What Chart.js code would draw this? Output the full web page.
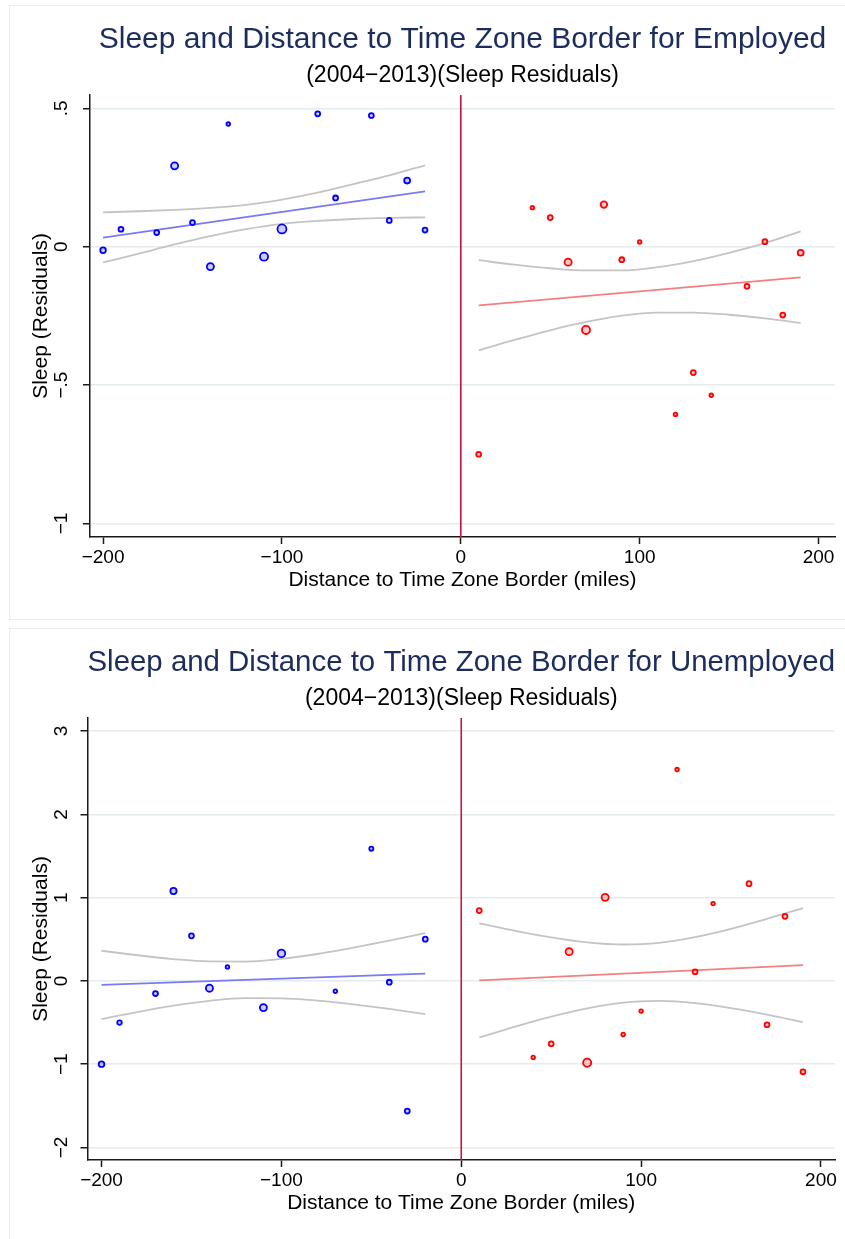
<!DOCTYPE html>
<html>
<head>
<meta charset="utf-8">
<script src="https://cdn.jsdelivr.net/npm/chart.js@4.4.1/dist/chart.umd.min.js"></script>
<style>
  html, body { margin: 0; padding: 0; background: #fff; overflow: hidden; }
  #page { position: relative; width: 845px; height: 1239px; }
  .panel { position: absolute; left: 9px; width: 850px; border: 1px solid #e6edef; box-sizing: border-box; }
  canvas { position: absolute; left: 0; }
</style>
</head>
<body>
<div id="page">
  <div class="panel" style="top:5px;height:615px;"></div>
  <div class="panel" style="top:628px;height:620px;"></div>
  <canvas id="employed" width="845" height="620" style="top:0px"></canvas>
  <canvas id="unemployed" width="845" height="620" style="top:623px"></canvas>
</div>
<script>
// distance bins (miles) west / east of the border
const westX = [-200, -190, -170, -160, -150, -140, -130, -110, -100, -80, -70, -50, -40, -30, -20];
const eastX = [10, 40, 50, 60, 70, 80, 90, 100, 120, 130, 140, 160, 170, 180, 190];
const westXUnemp = [-200, -190, -170, -160, -150, -140, -130, -110, -100, -70, -50, -40, -30, -20];

// employed sleep residuals
const empWestY = [-0.013, 0.063, 0.051, 0.292, 0.087, -0.072, 0.443, -0.036, 0.064, 0.480, 0.176, 0.474, 0.095, 0.239, 0.060];
const empEastY = [-0.750, 0.141, 0.105, -0.056, -0.301, 0.152, -0.047, 0.017, -0.606, -0.455, -0.537, -0.143, 0.018, -0.247, -0.022];
const empWestW = [9, 7, 7, 14, 7, 14, 4, 18, 22, 7, 7, 7, 7, 10, 7];
const empEastW = [7, 4, 7, 14, 18, 12, 7, 4, 4, 7, 4, 7, 7, 7, 10];

// unemployed sleep residuals
const unempWestY = [-1.000, -0.501, -0.152, 1.079, 0.541, -0.088, 0.168, -0.321, 0.330, -0.124, 1.587, -0.016, -1.563, 0.501];
const unempEastY = [0.844, -0.919, -0.755, 0.351, -0.983, 1.003, -0.643, -0.363, 2.538, 0.110, 0.928, 1.168, -0.527, 0.775, -1.092];
const unempWestW = [9, 6, 7, 11, 7, 14, 4, 14, 16, 4, 5, 7, 7, 7];
const unempEastW = [7, 4, 7, 14, 18, 14, 4, 4, 4, 7, 4, 7, 7, 7, 7];

// linear fits and 95% bands
const fitWestX = [-200, -20];
const fitEastX = [10, 190];
const bandWestX = [-200, -180, -160, -140, -120, -100, -80, -60, -40, -20];
const bandEastX = [10, 30, 50, 70, 90, 110, 130, 150, 170, 190];

const empWestFit = [0.033, 0.200];
const empEastFit = [-0.212, -0.111];
const empWestHi = [0.124, 0.128, 0.133, 0.140, 0.151, 0.170, 0.195, 0.226, 0.258, 0.294];
const empWestLo = [-0.057, -0.025, 0.008, 0.038, 0.063, 0.082, 0.093, 0.100, 0.104, 0.106];
const empEastHi = [-0.049, -0.065, -0.078, -0.086, -0.086, -0.074, -0.052, -0.022, 0.013, 0.055];
const empEastLo = [-0.375, -0.337, -0.302, -0.272, -0.249, -0.238, -0.238, -0.246, -0.259, -0.276];

const unempWestFit = [-0.048, 0.088];
const unempEastFit = [0.006, 0.190];
const unempWestHi = [0.362, 0.308, 0.262, 0.234, 0.232, 0.265, 0.323, 0.399, 0.483, 0.574];
const unempWestLo = [-0.458, -0.374, -0.298, -0.240, -0.208, -0.209, -0.237, -0.283, -0.337, -0.398];
const unempEastHi = [0.691, 0.601, 0.523, 0.463, 0.437, 0.457, 0.525, 0.625, 0.745, 0.875];
const unempEastLo = [-0.679, -0.549, -0.429, -0.329, -0.261, -0.241, -0.267, -0.327, -0.405, -0.495];

// ticks
const xTicks = [-200, -100, 0, 100, 200];
const empYTicks = [-1, -0.5, 0, 0.5];
const unempYTicks = [-2, -1, 0, 1, 2, 3];
const borderX = 0;

Chart.defaults.font.family = "'Liberation Sans', Arial, sans-serif";
Chart.defaults.color = '#000';

function pts(xs, ys) {
  return xs.map((x, i) => ({ x: x, y: ys[i] }));
}

function stataNum(v) {
  if (v === 0) return '0';
  let s = String(Math.abs(v)).replace(/^0\./, '.');
  return (v < 0 ? '\u2212' : '') + s;
}

const borderLine = {
  id: 'borderLine',
  beforeDatasetsDraw(chart) {
    const { ctx, chartArea, scales } = chart;
    const px = scales.x.getPixelForValue(borderX);
    ctx.save();
    ctx.strokeStyle = '#c8143c';
    ctx.lineWidth = 1.6;
    ctx.beginPath();
    ctx.moveTo(px, chartArea.top);
    ctx.lineTo(px, chartArea.bottom);
    ctx.stroke();
    ctx.restore();
  }
};

function scatterSet(xs, ys, ws, col, fill) {
  return {
    type: 'scatter',
    data: pts(xs, ys),
    showLine: false,
    borderColor: col,
    backgroundColor: fill,
    borderWidth: 1.8,
    pointRadius: ws.map(w => Math.sqrt(w) - 0.2)
  };
}

function lineSet(xs, ys, col) {
  return {
    type: 'line',
    data: pts(xs, ys),
    borderColor: col,
    borderWidth: 1.8,
    pointRadius: 0,
    fill: false,
    cubicInterpolationMode: 'monotone'
  };
}

function makeChart(id, title, d) {
  new Chart(document.getElementById(id), {
    type: 'scatter',
    data: {
      datasets: [
        scatterSet(d.wx, d.wy, d.ww, '#0000ff', 'rgba(0,0,255,0.2)'),
        scatterSet(eastX, d.ey, d.ew, '#ff0000', 'rgba(255,0,0,0.2)'),
        lineSet(fitWestX, d.wFit, '#7a7af2'),
        lineSet(fitEastX, d.eFit, '#f28080'),
        lineSet(bandWestX, d.wHi, '#c4c4c4'),
        lineSet(bandWestX, d.wLo, '#c4c4c4'),
        lineSet(bandEastX, d.eHi, '#c4c4c4'),
        lineSet(bandEastX, d.eLo, '#c4c4c4')
      ]
    },
    options: {
      responsive: false,
      animation: false,
      devicePixelRatio: 1,
      events: [],
      layout: { padding: { top: 21.5, left: 0, right: 10, bottom: 0 } },
      plugins: {
        legend: { display: false },
        tooltip: { enabled: false },
        title: {
          display: true, text: title, fullSize: false,
          color: '#1c2c5b', font: { size: 30, weight: 'normal' },
          padding: { top: 0, bottom: 4.2 }
        },
        subtitle: {
          display: true, text: '(2004\u22122013)(Sleep Residuals)', fullSize: false,
          color: '#000', font: { size: 23 },
          padding: { top: 0, bottom: 5.7 }
        }
      },
      scales: {
        x: {
          type: 'linear', min: d.xMin, max: d.xMax,
          afterBuildTicks: s => { s.ticks = xTicks.map(v => ({ value: v })); },
          afterFit: s => { s.height = 83; },
          ticks: { font: { size: 19 }, padding: 2.4, minRotation: 0, maxRotation: 0, autoSkip: false, callback: stataNum },
          grid: { drawOnChartArea: false, drawTicks: true, tickLength: 7, tickColor: '#1a1a1a', tickWidth: 1.5 },
          border: { display: true, color: '#1a1a1a', width: 1.5 },
          title: { display: true, text: 'Distance to Time Zone Border (miles)', font: { size: 21 }, padding: { top: 0, bottom: 27.4 } }
        },
        y: {
          type: 'linear', min: d.yMin, max: d.yMax,
          afterBuildTicks: s => { s.ticks = d.yTicks.map(v => ({ value: v })); },
          afterFit: s => { s.width = d.left; },
          ticks: { font: { size: 19 }, padding: 7.5, minRotation: 90, maxRotation: 90, crossAlign: 'center', autoSkip: false, callback: stataNum },
          grid: { color: '#e4ecef', lineWidth: 1.5, drawTicks: true, tickLength: 7, tickColor: '#1a1a1a', tickWidth: 1.5 },
          border: { display: true, color: '#1a1a1a', width: 1.5 },
          title: { display: true, text: 'Sleep (Residuals)', font: { size: 21 }, padding: { top: 29, bottom: 0 } }
        }
      }
    },
    plugins: [borderLine]
  });
}

makeChart('employed', 'Sleep and Distance to Time Zone Border for Employed', {
  wx: westX, wy: empWestY, ww: empWestW, ey: empEastY, ew: empEastW,
  wFit: empWestFit, eFit: empEastFit, wHi: empWestHi, wLo: empWestLo, eHi: empEastHi, eLo: empEastLo,
  yTicks: empYTicks, yMin: -1.049, yMax: 0.548, xMin: -207.3, xMax: 209.2, left: 90
});

makeChart('unemployed', 'Sleep and Distance to Time Zone Border for Unemployed', {
  wx: westXUnemp, wy: unempWestY, ww: unempWestW, ey: unempEastY, ew: unempEastW,
  wFit: unempWestFit, eFit: unempEastFit, wHi: unempWestHi, wLo: unempWestLo, eHi: unempEastHi, eLo: unempEastLo,
  yTicks: unempYTicks, yMin: -2.151, yMax: 3.157, xMin: -207.8, xMax: 207.8, left: 87.5
});
</script>
</body>
</html>
